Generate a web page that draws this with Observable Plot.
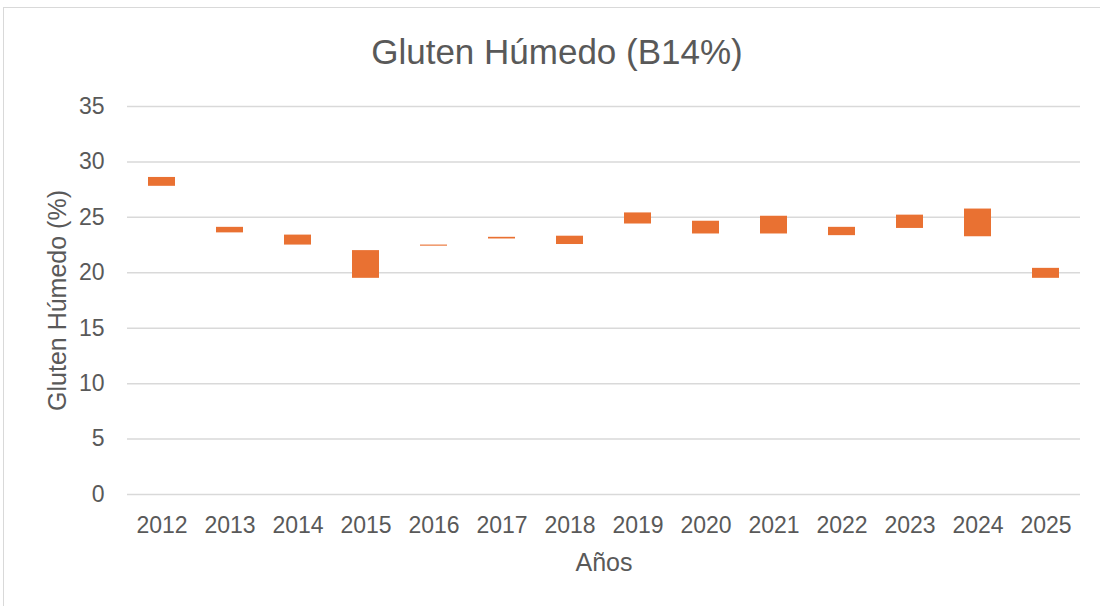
<!DOCTYPE html>
<html>
<head>
<meta charset="utf-8">
<script src="https://cdn.jsdelivr.net/npm/d3@7"></script>
<script src="https://cdn.jsdelivr.net/npm/@observablehq/plot@0.6"></script>
<style>
  html, body { margin: 0; padding: 0; background: #fff; }
  #wrap { position: relative; width: 1100px; height: 606px; overflow: hidden; font-family: "Liberation Sans", Arial, sans-serif; color: #595959; }
  #frame { position: absolute; left: 3px; top: 7px; width: 1200px; height: 700px; border-left: 1px solid #d9d9d9; border-top: 1.5px solid #d9d9d9; box-sizing: border-box; }
  #title { position: absolute; left: 0; top: 30px; width: 1114px; text-align: center; font-size: 35px; line-height: 44px; color: #595959; }
  #chart { position: absolute; left: 0; top: 0; }
</style>
</head>
<body>
<div id="wrap">
  <div id="frame"></div>
  <div id="title">Gluten Húmedo (B14%)</div>
  <div id="chart"></div>
</div>
<script>
const years = ["2012","2013","2014","2015","2016","2017","2018","2019","2020","2021","2022","2023","2024","2025"];
const lows  = [27.8, 23.6, 22.5, 19.5, 22.4, 23.05, 22.55, 24.4, 23.5, 23.5, 23.35, 24.0, 23.25, 19.5];
const highs = [28.6, 24.1, 23.4, 22.0, 22.5, 23.2, 23.3, 25.4, 24.65, 25.1, 24.1, 25.2, 25.75, 20.4];
const yTicks = [0, 5, 10, 15, 20, 25, 30, 35];
const yTitle = "Gluten Húmedo (%)";
const xTitle = "Años";

const data = years.map((y, i) => ({year: y, low: lows[i], high: highs[i]}));

const chart = Plot.plot({
  width: 1100,
  height: 606,
  marginTop: 106,
  marginBottom: 112,
  marginLeft: 127,
  marginRight: 20,
  style: {fontFamily: "'Liberation Sans', Arial, sans-serif", fontSize: "23px", color: "#595959", background: "transparent", overflow: "visible"},
  x: {domain: years, paddingInner: 0.6, paddingOuter: 0.3},
  y: {domain: [0, 35]},
  marks: [
    Plot.gridY(yTicks, {stroke: "#d9d9d9", strokeOpacity: 1, strokeWidth: 1.5}),
    Plot.axisY(yTicks, {tickSize: 0, tickPadding: 23, label: null, fill: "#595959"}),
    Plot.axisX({tickSize: 0, tickPadding: 22, label: null, fill: "#595959"}),
    Plot.barY(data, {x: "year", y1: "low", y2: "high", fill: "#E97132"}),
    Plot.text([yTitle], {frameAnchor: "left", textAnchor: "middle", dx: -70, rotate: -90, fontSize: 25, fill: "#595959"}),
    Plot.text([xTitle], {frameAnchor: "bottom", dy: 76, fontSize: 25, fill: "#595959"})
  ]
});
document.getElementById("chart").appendChild(chart);
</script>
</body>
</html>
